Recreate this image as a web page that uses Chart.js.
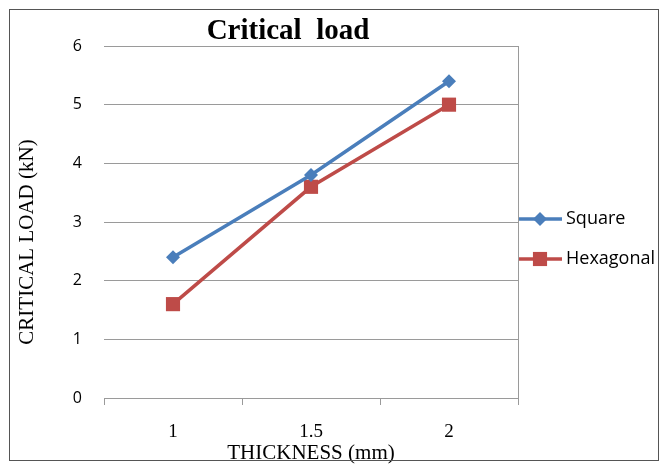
<!DOCTYPE html>
<html>
<head>
<meta charset="utf-8">
<script src="https://cdn.jsdelivr.net/npm/chart.js@4/dist/chart.umd.min.js"></script>
<style>
  html, body { margin: 0; padding: 0; background: #fff; }
  #wrap { position: relative; width: 668px; height: 466px; }
  #frame { position: absolute; left: 9px; top: 9px; width: 650px; height: 452px; border: 1.5px solid #555; box-sizing: border-box; pointer-events: none; }
</style>
</head>
<body>
<div id="wrap">
  <canvas id="chart" width="668" height="466"></canvas>
  <div id="frame"></div>
</div>
<script>
const thickness = ['1', '1.5', '2'];
const squareLoad = [2.4, 3.8, 5.4];
const hexagonalLoad = [1.6, 3.6, 5.0];
const seriesNames = ['Square', 'Hexagonal'];

const blue = '#4a7ebb';
const red = '#be4b48';
const gridGrey = '#9a9a9a';

// title, y title and legend drawn by hand so they land where the original puts them
const extras = {
    id: 'extras',
    afterDraw(chart) {
        const ctx = chart.ctx;
        ctx.save();
        ctx.fillStyle = '#000';
        ctx.font = 'bold 29px "Liberation Serif", serif';
        ctx.textAlign = 'center';
        ctx.textBaseline = 'middle';
        ctx.fillText('Critical  load', 288, 32);

        ctx.save();
        ctx.translate(27, 242);
        ctx.rotate(-Math.PI / 2);
        ctx.font = '21px "Liberation Serif", serif';
        ctx.fillText('CRITICAL LOAD (kN)', 0, 0);
        ctx.restore();

        const items = [
            { y: 219, color: blue, style: 'rectRot', r: 7 },
            { y: 259, color: red, style: 'rect', r: 10 }
        ];
        ctx.font = '18px "Open Sans", sans-serif';
        ctx.textAlign = 'left';
        items.forEach((it, i) => {
            ctx.strokeStyle = it.color;
            ctx.lineWidth = 3.5;
            ctx.beginPath();
            ctx.moveTo(519, it.y);
            ctx.lineTo(562, it.y);
            ctx.stroke();
            ctx.fillStyle = it.color;
            Chart.helpers.drawPoint(ctx, { pointStyle: it.style, radius: it.r, borderWidth: 0 }, 540, it.y);
            ctx.fillStyle = '#000';
            ctx.fillText(seriesNames[i], 566, it.y);
        });
        ctx.restore();
    }
};

new Chart(document.getElementById('chart'), {
    type: 'line',
    data: {
        labels: thickness,
        datasets: [
            {
                label: seriesNames[0],
                data: squareLoad,
                borderColor: blue,
                backgroundColor: blue,
                borderWidth: 3.5,
                pointStyle: 'rectRot',
                pointRadius: 7,
                pointBorderWidth: 0
            },
            {
                label: seriesNames[1],
                data: hexagonalLoad,
                borderColor: red,
                backgroundColor: red,
                borderWidth: 3.5,
                pointStyle: 'rect',
                pointRadius: 10,
                pointBorderWidth: 0
            }
        ]
    },
    options: {
        responsive: false,
        animation: false,
        layout: { padding: { left: 10, right: 150, top: 46, bottom: 0 } },
        plugins: {
            legend: { display: false },
            title: { display: false },
            tooltip: { enabled: false }
        },
        scales: {
            x: {
                offset: true,
                afterFit: s => { s.height = 68; },
                grid: {
                    offset: true,
                    drawOnChartArea: true,
                    // only the closing line on the right reaches up through the plot
                    color: ctx => ctx.tick ? 'rgba(0,0,0,0)' : gridGrey,
                    tickColor: gridGrey,
                    tickLength: 7,
                    lineWidth: 1
                },
                border: { display: true, color: gridGrey },
                ticks: {
                    padding: 16,
                    color: '#000',
                    font: { family: '"Liberation Serif", serif', size: 19 }
                },
                title: {
                    display: true,
                    text: 'THICKNESS (mm)',
                    color: '#000',
                    padding: { top: 0, bottom: 0 },
                    font: { family: '"Liberation Serif", serif', size: 21 }
                }
            },
            y: {
                min: 0,
                max: 6,
                afterFit: s => { s.width = 94; },
                grid: {
                    color: gridGrey,
                    drawTicks: false,
                    lineWidth: 1
                },
                border: { display: false },
                ticks: {
                    stepSize: 1,
                    padding: 22,
                    color: '#000',
                    font: { family: '"Open Sans", sans-serif', size: 16 }
                },
                title: { display: false }
            }
        }
    },
    plugins: [extras]
});
</script>
</body>
</html>
